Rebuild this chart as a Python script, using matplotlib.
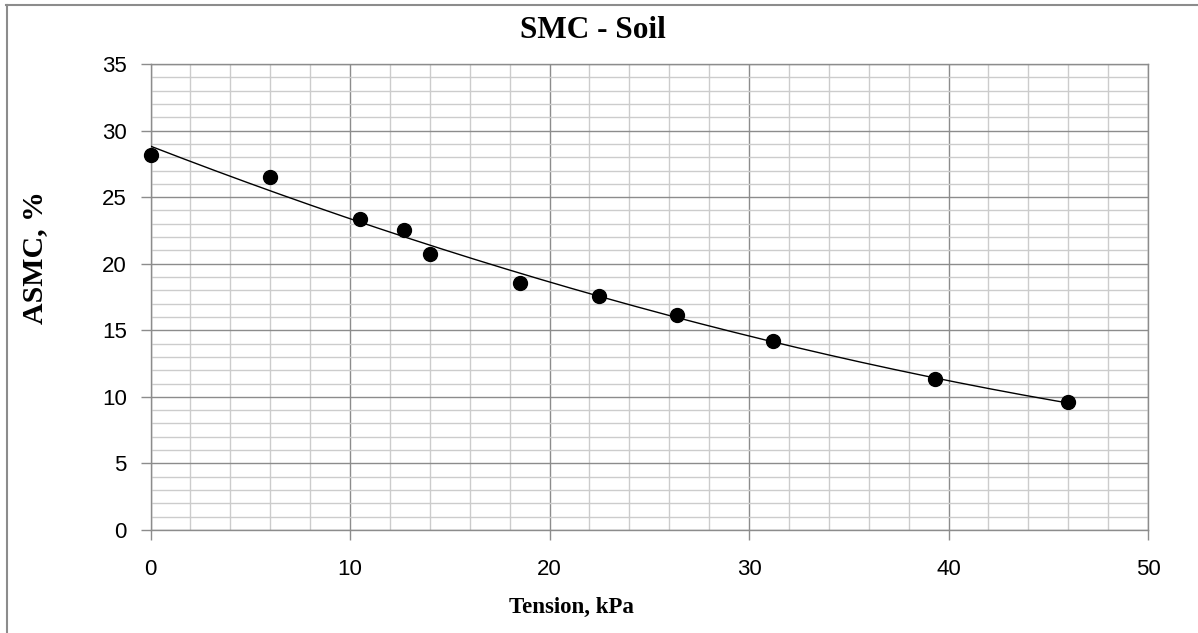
import numpy as np
import matplotlib
matplotlib.use("Agg")
import matplotlib.pyplot as plt
from matplotlib.ticker import MultipleLocator
from matplotlib.lines import Line2D

tension = [0.0, 6.0, 10.5, 12.7, 14.0, 18.5, 22.5, 26.4, 31.2, 39.3, 46.0]
asmc = [28.2, 26.5, 23.35, 22.5, 20.75, 18.55, 17.6, 16.15, 14.2, 11.35, 9.6]
title = "SMC - Soil"
xlabel = "Tension, kPa"
ylabel = "ASMC, %"

W, H = 1198, 633
fig = plt.figure(figsize=(W / 100, H / 100), dpi=100)
ax = fig.add_axes([150.5 / W, 1 - 530 / H, (1148 - 150.5) / W, (530 - 64) / H])

ax.set_xlim(0, 50)
ax.set_ylim(0, 35)
ax.xaxis.set_major_locator(MultipleLocator(10))
ax.xaxis.set_minor_locator(MultipleLocator(2))
ax.yaxis.set_major_locator(MultipleLocator(5))
ax.yaxis.set_minor_locator(MultipleLocator(1))
ax.grid(which="minor", color="#cccccc", linewidth=1.0)
ax.grid(which="major", color="#8c8c8c", linewidth=1.0)
ax.set_axisbelow(True)
for s in ax.spines.values():
    s.set_color("#8c8c8c")
    s.set_linewidth(1.0)
ax.tick_params(which="major", direction="out", length=7, width=1.0, color="#8c8c8c",
               labelsize=16)
ax.tick_params(axis="x", pad=14)
ax.tick_params(axis="y", pad=10)
ax.tick_params(which="minor", length=0)
for lab in ax.get_xticklabels() + ax.get_yticklabels():
    lab.set_fontfamily("Liberation Sans")

# polynomial trendline (2nd order) computed from the data
coef = np.polyfit(tension, asmc, 2)
xs = np.linspace(min(tension), max(tension), 200)
ax.plot(xs, np.polyval(coef, xs), color="black", linewidth=1.0, zorder=3)

ax.plot(tension, asmc, linestyle="none", marker="o", markersize=10,
        markerfacecolor="black", markeredgecolor="black", zorder=4, clip_on=False)

fig.text(593 / W, 1 - 31 / H, title, ha="center", va="center",
         fontfamily="Liberation Serif", fontweight="bold", fontsize=22.5)
fig.text(571 / W, 1 - 607 / H, xlabel, ha="center", va="center",
         fontfamily="Liberation Serif", fontweight="bold", fontsize=16.5)
fig.text(35 / W, 1 - 258 / H, ylabel, ha="center", va="center", rotation=90,
         fontfamily="Liberation Serif", fontweight="bold", fontsize=21.5)

# outer chart border (top and left visible)
fig.add_artist(Line2D([6 / W, 1], [1 - 4.5 / H, 1 - 4.5 / H], transform=fig.transFigure,
                      color="#8c8c8c", linewidth=1.5))
fig.add_artist(Line2D([6.5 / W, 6.5 / W], [0, 1 - 4.5 / H], transform=fig.transFigure,
                      color="#8c8c8c", linewidth=1.5))

fig.savefig("out.png", dpi=100)
